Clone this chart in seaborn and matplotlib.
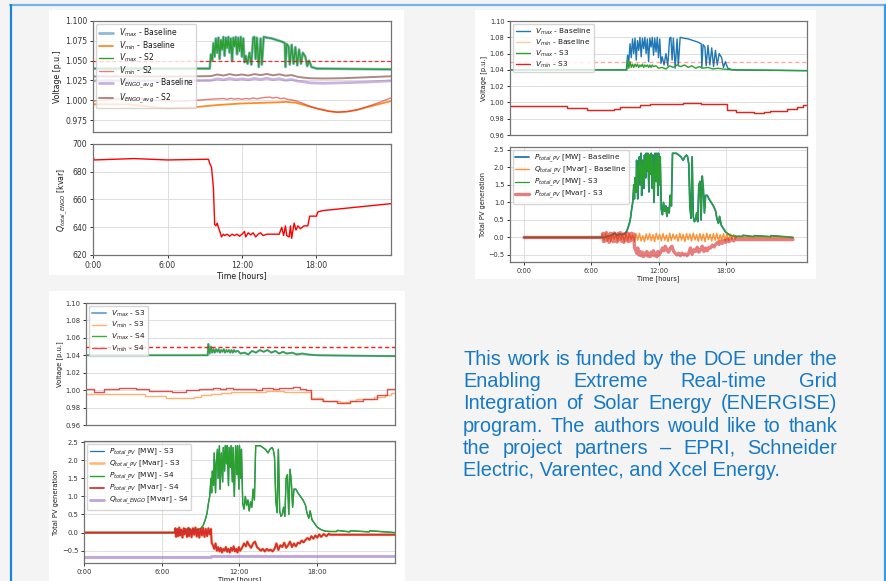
import numpy as np
import matplotlib
matplotlib.use("Agg")
import matplotlib.pyplot as plt
import seaborn as sns
from matplotlib.patches import Rectangle
from matplotlib.lines import Line2D
from matplotlib.ticker import FormatStrFormatter, MultipleLocator

W, H = 887, 581

# ------------------------------------------------------------------ data
hour_ticks = [0, 6, 12, 18]
hour_labels = ["0:00", "6:00", "12:00", "18:00"]
v_limit = 1.05

# Baseline V_max (spiky over-voltage) [p.u.]
vmax_base_t = [0.0, 9.40, 9.50, 9.60, 9.70, 9.80, 9.90, 10.0, 10.1, 10.2, 10.3, 10.4, 10.5,
               10.6, 10.7, 10.8, 10.9, 11.0, 11.1, 11.2, 11.3, 11.4, 11.5, 11.6, 11.7, 11.8,
               11.9, 12.0, 12.1, 12.2, 12.3, 12.45, 12.6, 12.75, 12.9, 13.0, 13.1, 13.2, 13.35,
               13.5, 13.6, 13.75, 14.0, 14.4, 14.8, 15.2, 15.45, 15.5, 15.6, 15.75, 15.85, 16.0,
               16.15, 16.3, 16.45, 16.6, 16.75, 16.9, 17.1, 17.25, 17.4, 17.6, 17.8, 18.0, 24.0]
vmax_base_v = [1.040, 1.040, 1.058, 1.050, 1.072, 1.055, 1.078, 1.060, 1.079, 1.052, 1.076, 1.064, 1.080,
               1.056, 1.079, 1.066, 1.080, 1.060, 1.078, 1.050, 1.079, 1.068, 1.080, 1.058, 1.079, 1.062,
               1.080, 1.055, 1.078, 1.048, 1.056, 1.046, 1.060, 1.045, 1.079, 1.080, 1.052, 1.079, 1.042,
               1.078, 1.045, 1.080, 1.079, 1.078, 1.076, 1.074, 1.072, 1.042, 1.071, 1.068, 1.045, 1.070,
               1.046, 1.067, 1.044, 1.064, 1.046, 1.060, 1.055, 1.043, 1.050, 1.042, 1.041, 1.040, 1.039]

# S3 / S4 V_max (controlled) [p.u.]
vmax_s3_t = [0.0, 9.45, 9.5, 9.6, 9.7, 9.8, 9.9, 10.0, 10.1, 10.2, 10.3, 10.4, 10.5, 10.6, 10.7,
             10.8, 10.9, 11.0, 11.1, 11.2, 11.3, 11.4, 11.5, 11.6, 11.8, 12.0, 12.3, 12.6, 12.9,
             13.2, 13.5, 13.8, 14.1, 14.4, 14.7, 15.0, 15.3, 15.6, 16.0, 16.4, 16.8, 17.2, 18.0, 24.0]
vmax_s3_v = [1.040, 1.040, 1.053, 1.042, 1.050, 1.043, 1.047, 1.043, 1.047, 1.044, 1.047, 1.043, 1.046,
             1.044, 1.047, 1.043, 1.046, 1.044, 1.046, 1.043, 1.046, 1.043, 1.046, 1.044, 1.045, 1.042,
             1.043, 1.041, 1.045, 1.043, 1.046, 1.044, 1.046, 1.043, 1.045, 1.042, 1.044, 1.042, 1.043,
             1.041, 1.042, 1.041, 1.040, 1.039]

# V_min, baseline and S3 (step profile) [p.u.]
vmin_s3_t = [0.0, 3.0, 4.6, 6.2, 8.4, 8.9, 9.7, 10.5, 11.3, 12.7, 14.0, 15.4, 17.5, 18.3, 19.7,
             20.5, 21.0, 22.4, 23.2, 23.7, 24.0]
vmin_s3_v = [0.9958, 0.9952, 0.9935, 0.991, 0.9925, 0.994, 0.995, 0.9965, 0.998, 0.998, 0.999, 0.998,
             0.991, 0.988, 0.9866, 0.988, 0.990, 0.992, 0.994, 0.997, 0.997]

# V_min S4 (step profile) [p.u.]
vmin_s4_t = [0.0, 0.65, 1.4, 2.6, 3.9, 4.9, 6.7, 7.8, 8.8, 9.9, 10.4, 10.9, 11.4, 12.0, 12.7, 13.2,
             13.7, 14.5, 15.0, 15.6, 16.1, 16.6, 17.1, 17.5, 18.4, 19.5, 20.5, 21.5, 22.6, 23.4, 24.0]
vmin_s4_v = [1.001, 0.9977, 1.001, 1.0027, 1.001, 0.9989, 0.998, 0.9996, 1.0015, 1.0027, 1.0018,
             1.0028, 1.0008, 1.0012, 1.0015, 1.0005, 1.002, 1.0012, 1.003, 1.002, 1.0038, 1.0008,
             0.9996, 0.9897, 0.987, 0.985, 0.987, 0.990, 0.9943, 1.001, 1.001]

# Panel with S2: V_min baseline / S2, ENGO average voltages [p.u.]
vmin_p1_t = [0, 1.5, 3.0, 4.5, 5.9, 7.0, 8.0, 9.0, 10.0, 11.0, 12.0, 13.0, 14.0, 15.0, 15.5, 16.3,
             17.0, 17.5, 18.2, 19.0, 19.7, 20.5, 21.3, 22.0, 23.0, 24.0]
vmin_base_p1_v = [0.995, 0.995, 0.9948, 0.992, 0.990, 0.9902, 0.991, 0.9925, 0.994, 0.995, 0.996,
                  0.9965, 0.997, 0.9975, 0.998, 0.997, 0.994, 0.992, 0.989, 0.9862, 0.985, 0.9858,
                  0.988, 0.991, 0.995, 0.999]
vmin_s2_t = [0, 1.0, 2.7, 4.0, 5.5, 7.5, 9.0, 10.0, 10.5, 10.8, 11.1, 11.4, 11.7, 12.0, 12.3, 12.6,
             12.9, 13.2, 13.5, 13.8, 14.2, 14.5, 14.8, 15.1, 15.4, 15.7, 16.0, 16.4, 17.0, 17.5,
             18.2, 19.0, 19.7, 20.5, 21.3, 22.0, 23.0, 24.0]
vmin_s2_v = [0.999, 1.0005, 1.0026, 1.002, 0.999, 0.999, 1.0008, 1.0018, 1.0022, 1.0012, 1.0025,
             1.0015, 1.0022, 1.0013, 1.0024, 1.0016, 1.003, 1.0018, 1.0028, 1.0035, 1.004, 1.0028,
             1.0038, 1.002, 1.0028, 1.001, 1.0005, 0.999, 0.9955, 0.992, 0.989, 0.9862, 0.985,
             0.9858, 0.988, 0.9915, 0.997, 1.003]
engo_t = [0, 3, 6, 9.5, 10.0, 10.5, 11.0, 11.5, 12.0, 12.5, 13.0, 13.5, 14.0, 14.5, 15.0, 15.5,
          16.0, 16.5, 17.0, 17.5, 18.5, 20, 22, 24]
engo_base_v = [1.0245, 1.0248, 1.0245, 1.025, 1.027, 1.0258, 1.0275, 1.026, 1.027, 1.0258, 1.0275,
               1.0262, 1.0278, 1.026, 1.0272, 1.0252, 1.0262, 1.0242, 1.0232, 1.022, 1.0215, 1.022,
               1.023, 1.0245]
engo_s2_v = [1.030, 1.0302, 1.0298, 1.0305, 1.0325, 1.0312, 1.033, 1.0315, 1.0325, 1.0312, 1.033,
             1.0318, 1.0332, 1.0315, 1.0328, 1.031, 1.0318, 1.0295, 1.0285, 1.0278, 1.0275, 1.0278,
             1.029, 1.0303]

# Q_total_ENGO with S2 [kvar]
qengo_t = [0, 0.1, 3.3, 6.0, 9.3, 9.4, 9.55, 9.7, 9.8, 9.9, 10.0, 10.1, 10.25, 10.35, 10.5, 10.6,
           10.8, 11.0, 11.2, 11.4, 11.6, 11.8, 12.0, 12.2, 12.3, 12.5, 12.7, 12.9, 13.1, 13.3, 13.5,
           13.7, 14.0, 14.5, 15.0, 15.2, 15.35, 15.5, 15.6, 15.8, 15.9, 16.0, 16.2, 16.35, 16.5,
           16.7, 17.0, 17.3, 17.45, 17.6, 18.0, 18.1, 18.5, 24.0]
qengo_v = [691, 688.5, 689.5, 688.5, 689, 686, 683, 668, 642, 641, 643, 640, 636, 633, 635, 634,
           635, 633.5, 635, 634, 635, 633.5, 635, 637, 633, 636, 634.5, 636, 633, 635, 636, 634, 635,
           635, 635, 640, 634, 641, 634, 633, 641, 632, 643, 638, 641, 639, 641, 641, 648, 648, 648,
           651, 652, 657]

# Total PV active power [MW]
pv_p_t = [0, 7.2, 7.4, 7.8, 8.1, 8.3, 8.5, 8.7, 9.0, 9.2, 9.4, 9.5, 9.6, 9.7, 9.8, 9.85, 9.9, 10.0,
          10.05, 10.15, 10.2, 10.3, 10.35, 10.45, 10.5, 10.6, 10.7, 10.75, 10.85, 10.9, 11.0, 11.05,
          11.15, 11.2, 11.3, 11.35, 11.45, 11.5, 11.6, 11.7, 11.8, 11.85, 11.95, 12.0, 12.1, 12.15,
          12.25, 12.35, 12.45, 12.55, 12.65, 12.75, 12.85, 12.95, 13.05, 13.15, 13.25, 13.4, 13.6,
          13.8, 14.0, 14.2, 14.35, 14.5, 14.6, 14.7, 14.8, 14.9, 15.0, 15.1, 15.2, 15.3, 15.4, 15.5,
          15.6, 15.7, 15.8, 15.9, 16.0, 16.1, 16.2, 16.35, 16.5, 16.7, 16.9, 17.1, 17.2, 17.35,
          17.45, 17.6, 17.8, 18.0, 18.3, 18.6, 19.0, 19.5, 19.55, 20.5, 20.55, 22.0, 22.05, 24.0]
pv_p_v = [0, 0, 0.03, 0.06, 0.12, 0.05, 0.10, 0.08, 0.10, 0.2, 0.4, 0.55, 0.8, 1.0, 1.5, 1.1, 1.7,
          1.3, 2.2, 1.1, 1.9, 2.3, 1.5, 2.4, 1.2, 2.2, 1.4, 2.35, 1.7, 2.4, 1.9, 2.4, 1.3, 2.35, 1.8,
          2.4, 1.4, 2.35, 1.0, 2.4, 1.6, 2.4, 1.2, 2.4, 1.5, 2.3, 0.8, 0.65, 1.0, 0.75, 0.9, 0.6, 0.85,
          0.7, 1.2, 0.9, 2.4, 2.4, 2.4, 2.35, 2.3, 2.2, 2.3, 2.35, 2.3, 2.1, 0.9, 0.55, 2.3, 0.6, 0.45,
          0.5, 0.7, 0.45, 1.5, 1.6, 0.5, 1.75, 1.4, 0.7, 1.2, 1.2, 1.1, 1.0, 0.9, 0.75, 0.55, 0.4, 0.6,
          0.35, 0.25, 0.15, 0.08, 0.04, 0.03, 0.03, 0.06, 0.02, 0.05, 0.02, 0.05, 0.0]

# PV reactive power with S3 control [Mvar]
q_s3_t = [0, 7.0, 7.05, 7.1, 7.2, 7.25, 7.35, 7.4, 7.5, 7.6, 7.7, 7.75, 7.85, 7.95, 8.05, 8.1, 8.2,
          8.3, 8.4, 8.5, 8.6, 8.7, 8.8, 8.9, 9.0, 9.1, 9.2, 9.3, 9.4, 9.5, 9.6, 9.7, 9.8, 9.85, 9.95,
          10.05, 10.15, 10.25, 10.35, 10.45, 10.55, 10.65, 10.75, 10.85, 10.95, 11.05, 11.15, 11.25,
          11.35, 11.45, 11.55, 11.65, 11.75, 11.85, 11.95, 12.05, 12.2, 12.35, 12.5, 12.6, 12.75,
          12.9, 13.05, 13.2, 13.35, 13.5, 13.65, 13.8, 13.95, 14.1, 14.25, 14.4, 14.55, 14.7, 14.85,
          15.0, 15.15, 15.3, 15.45, 15.6, 15.75, 15.9, 16.05, 16.2, 16.35, 16.5, 16.65, 16.8, 16.95,
          17.1, 17.25, 17.4, 17.55, 17.7, 17.85, 18.0, 18.15, 18.3, 18.5, 18.7, 18.9, 19.0, 24.0]
q_s3_v = [0, 0, 0.12, -0.12, 0.1, -0.1, 0.14, -0.08, 0.08, -0.14, 0.12, -0.05, 0.1, -0.12, 0.13,
          -0.1, 0.09, -0.13, 0.12, -0.06, 0.14, -0.11, 0.1, -0.14, 0.11, -0.08, 0.13, -0.12, 0.1,
          -0.1, 0.12, -0.05, 0.1, -0.28, -0.35, -0.45, -0.3, -0.5, -0.4, -0.52, -0.42, -0.55, -0.45,
          -0.5, -0.4, -0.53, -0.45, -0.55, -0.42, -0.5, -0.38, -0.52, -0.45, -0.55, -0.4, -0.5, -0.42,
          -0.3, -0.38, -0.25, -0.35, -0.42, -0.3, -0.25, -0.4, -0.45, -0.5, -0.45, -0.52, -0.45, -0.5,
          -0.47, -0.52, -0.45, -0.3, -0.48, -0.35, -0.4, -0.28, -0.42, -0.35, -0.25, -0.4, -0.3,
          -0.38, -0.28, -0.3, -0.22, -0.27, -0.2, -0.15, -0.2, -0.1, -0.17, -0.08, -0.14, -0.05,
          -0.12, -0.04, -0.1, -0.03, -0.06, -0.06]

# PV reactive power, baseline [Mvar] (dense band 7:00-19:00, 0.15 h steps)
q_base_start, q_base_step = 7.0, 0.15
q_base_band = [0.10, -0.08, 0.12, -0.10, 0.06, -0.12, 0.11, -0.05, 0.09, -0.11, 0.12, -0.07, 0.08,
               -0.12, 0.10, -0.09, 0.12, -0.06, 0.07, -0.11, 0.11, -0.08, 0.12, -0.10, 0.05, -0.12,
               0.10, -0.07, 0.11, -0.09, 0.08, -0.12, 0.12, -0.06, 0.09, -0.10, 0.11, -0.08, 0.07,
               -0.12, 0.12, -0.09, 0.10, -0.05, 0.08, -0.11, 0.12, -0.08, 0.09, -0.12, 0.11, -0.06,
               0.10, -0.10, 0.12, -0.07, 0.08, -0.11, 0.11, -0.09, 0.10, -0.12, 0.12, -0.06, 0.09,
               -0.10, 0.11, -0.08, 0.12, -0.11, 0.08, -0.07, 0.11, -0.10, 0.12, -0.09, 0.10, -0.06,
               0.08, -0.05, 0.03]

# Q_total_ENGO with S4 [Mvar]
qengo_s4_t = [0, 9.8, 17.7, 24.0]
qengo_s4_v = [-0.68, -0.635, -0.655, -0.655]

# ------------------------------------------------------------------ style
sns.set_theme(style="whitegrid", rc={
    "axes.edgecolor": "0.45", "axes.linewidth": 0.9, "grid.color": "0.87",
    "grid.linewidth": 0.7, "xtick.bottom": True, "ytick.left": True,
    "xtick.major.size": 2.5, "ytick.major.size": 2.5, "xtick.major.width": 0.7,
    "ytick.major.width": 0.7, "xtick.major.pad": 1.5, "ytick.major.pad": 1.5,
    "xtick.color": "0.2", "ytick.color": "0.2", "text.color": "0.1",
    "axes.labelcolor": "0.1", "legend.frameon": True,
})
plt.rcParams["font.family"] = ["DejaVu Sans"]

C = dict(blue="#1f77b4", orange="#ff7f0e", green="#2ca02c", red="#d62728",
         purple="#9467bd", brown="#8c564b")

fig = plt.figure(figsize=(W / 100, H / 100), dpi=100, facecolor="#f4f4f4")


def fx(x):
    return x / W


def fy(y):
    return 1 - y / H


def panel(x0, y0, x1, y1):
    fig.patches.append(Rectangle((fx(x0), fy(y1)), fx(x1 - x0), (y1 - y0) / H,
                                 transform=fig.transFigure, facecolor="white",
                                 edgecolor="none", zorder=-5))


def px_axes(x0, y0, x1, y1):
    ax = fig.add_axes([fx(x0), fy(y1), fx(x1 - x0), (y1 - y0) / H])
    ax.set_zorder(2)
    return ax


def line(ax, t, v, color, lw=1.0, alpha=1.0, label=None, steps=False, z=2):
    kw = {"drawstyle": "steps-post"} if steps else {}
    sns.lineplot(x=list(t), y=list(v), ax=ax, color=color, linewidth=lw, alpha=alpha,
                 estimator=None, sort=False, zorder=z, legend=False, **kw)
    if label is not None:
        ax.lines[-1].set_label(label)


def style(ax, fs):
    ax.tick_params(labelsize=fs, length=2.5, pad=1.5)
    for s in ax.spines.values():
        s.set_color("0.45")
        s.set_linewidth(0.9)


def time_axis(ax, fs):
    ax.set_xticks(hour_ticks)
    ax.set_xticklabels(hour_labels)
    ax.set_xlabel("Time [hours]", fontsize=fs, labelpad=1)


def legend(ax, fs, spacing=0.25):
    ax.legend(loc="upper left", fontsize=fs, labelspacing=spacing, handlelength=1.9,
              borderpad=0.35, handletextpad=0.7, borderaxespad=0.4, framealpha=0.8,
              edgecolor="0.8", fancybox=True)


# white backgrounds of the three figure insets
panel(49, 10, 404, 275)
panel(475, 10, 816, 279)
panel(49, 291, 405, 581)

# poster borders
fig.lines.append(Line2D([fx(10), fx(886)], [fy(5), fy(5)], transform=fig.transFigure,
                        color="#74b4e4", lw=1.6, zorder=5))
fig.lines.append(Line2D([fx(11), fx(11)], [fy(5), fy(582)], transform=fig.transFigure,
                        color="#1a84d6", lw=1.6, zorder=5))
fig.lines.append(Line2D([fx(885), fx(885)], [fy(5), fy(582)], transform=fig.transFigure,
                        color="#3a9be3", lw=1.6, zorder=5))

# ---------------- panel 1 (S2) ----------------
fs1 = 5.6
a = px_axes(93, 21, 391, 132)
line(a, vmax_base_t, vmax_base_v, C["blue"], 2.0, 0.5, r"$V_{max}$ - Baseline")
line(a, vmin_p1_t, vmin_base_p1_v, C["orange"], 1.3, 0.9, r"$V_{min}$ - Baseline")
line(a, vmax_base_t, vmax_base_v, C["green"], 1.0, 1.0, r"$V_{max}$ - S2")
line(a, vmin_s2_t, vmin_s2_v, C["red"], 1.0, 0.6, r"$V_{min}$ - S2")
line(a, engo_t, engo_base_v, C["purple"], 2.0, 0.5, r"$V_{ENGO\_avg}$ - Baseline")
line(a, engo_t, engo_s2_v, C["brown"], 1.4, 0.7, r"$V_{ENGO\_avg}$ - S2")
a.axhline(v_limit, color="red", ls=(0, (3, 2)), lw=0.9, alpha=0.8, zorder=3)
a.set_xlim(0, 24)
a.set_ylim(0.96, 1.10)
a.yaxis.set_major_locator(MultipleLocator(0.025))
a.yaxis.set_major_formatter(FormatStrFormatter("%.3f"))
a.set_xticks([])
a.set_ylabel("Voltage [p.u.]", fontsize=fs1, labelpad=2)
style(a, fs1)
legend(a, 5.5, 0.0)

a = px_axes(93, 144, 391, 255)
line(a, qengo_t, qengo_v, "red", 1.0, 1.0)
a.set_xlim(0, 24)
a.set_ylim(620, 700)
a.yaxis.set_major_locator(MultipleLocator(20))
a.set_ylabel(r"$Q_{total\_ENGO}$ [kvar]", fontsize=fs1, labelpad=2)
time_axis(a, fs1)
style(a, fs1)

# ---------------- panel 2 (S3) ----------------
fs2 = 4.8
a = px_axes(510, 21, 807, 135)
line(a, vmax_base_t, vmax_base_v, C["blue"], 1.0, 1.0, r"$V_{max}$ - Baseline")
line(a, vmin_s3_t, vmin_s3_v, C["orange"], 1.0, 0.4, r"$V_{min}$ - Baseline", steps=True)
line(a, vmax_s3_t, vmax_s3_v, C["green"], 1.0, 1.0, r"$V_{max}$ - S3")
line(a, vmin_s3_t, vmin_s3_v, C["red"], 1.0, 1.0, r"$V_{min}$ - S3", steps=True)
a.axhline(v_limit, color="red", ls=(0, (3, 2)), lw=1.0, alpha=0.35, zorder=3)
a.set_xlim(0, 24)
a.set_ylim(0.96, 1.10)
a.yaxis.set_major_locator(MultipleLocator(0.02))
a.yaxis.set_major_formatter(FormatStrFormatter("%.2f"))
a.set_xticks([])
a.set_ylabel("Voltage [p.u.]", fontsize=fs2, labelpad=2)
style(a, fs2)
legend(a, 5.3, 0.1)

q_base_t = [0.0] + [q_base_start + q_base_step * i for i in range(len(q_base_band))] + [19.2, 24.0]
q_base_v = [0.0] + q_base_band + [0.0, 0.0]
q_base_t[1:1] = [6.95]
q_base_v[1:1] = [0.0]

a = px_axes(510, 147, 807, 262)
line(a, pv_p_t, pv_p_v, C["blue"], 1.3, 1.0, r"$P_{total\_PV}$ [MW] - Baseline")
line(a, q_base_t, q_base_v, C["orange"], 1.0, 0.85, r"$Q_{total\_PV}$ [Mvar] - Baseline")
line(a, pv_p_t, pv_p_v, C["green"], 0.9, 1.0, r"$P_{total\_PV}$ [MW] - S3")
line(a, q_s3_t, q_s3_v, C["red"], 2.4, 0.6, r"$P_{total\_PV}$ [Mvar] - S3")
a.set_xlim(-1.25, 25.25)
a.set_ylim(-0.7, 2.58)
a.yaxis.set_major_locator(MultipleLocator(0.5))
a.set_ylabel("Total PV generation", fontsize=fs2, labelpad=2)
time_axis(a, fs2)
style(a, fs2)
legend(a, 5.2, 0.0)

# ---------------- panel 3 (S4) ----------------
fs3 = 4.9
a = px_axes(86, 303, 395, 425)
line(a, vmax_s3_t, vmax_s3_v, C["blue"], 1.5, 0.6, r"$V_{max}$ - S3")
line(a, vmin_s3_t, vmin_s3_v, C["orange"], 1.0, 0.6, r"$V_{min}$ - S3", steps=True)
line(a, vmax_s3_t, vmax_s3_v, C["green"], 1.0, 0.9, r"$V_{max}$ - S4")
line(a, vmin_s4_t, vmin_s4_v, C["red"], 1.0, 0.8, r"$V_{min}$ - S4", steps=True)
a.axhline(v_limit, color="red", ls=(0, (3, 2)), lw=1.0, alpha=0.9, zorder=3)
a.set_xlim(0, 24)
a.set_ylim(0.96, 1.10)
a.yaxis.set_major_locator(MultipleLocator(0.02))
a.yaxis.set_major_formatter(FormatStrFormatter("%.2f"))
a.set_xticks([])
a.set_ylabel("Voltage [p.u.]", fontsize=fs3, labelpad=2)
style(a, fs3)
legend(a, 5.3, 0.2)

a = px_axes(84, 441, 395, 563)
line(a, pv_p_t, pv_p_v, C["blue"], 0.9, 1.0, r"$P_{total\_PV}$ [MW] - S3")
line(a, q_s3_t, q_s3_v, C["orange"], 1.9, 0.55, r"$Q_{total\_PV}$ [Mvar] - S3")
line(a, pv_p_t, pv_p_v, C["green"], 1.0, 1.0, r"$P_{total\_PV}$ [MW] - S4")
line(a, q_s3_t, q_s3_v, C["red"], 1.3, 0.95, r"$P_{total\_PV}$ [Mvar] - S4")
line(a, qengo_s4_t, qengo_s4_v, C["purple"], 2.0, 0.6, r"$Q_{total\_ENGO}$ [Mvar] - S4", steps=True)
a.set_xlim(0, 24)
a.set_ylim(-0.84, 2.53)
a.yaxis.set_major_locator(MultipleLocator(0.5))
a.set_ylabel("Total PV generation", fontsize=fs3, labelpad=2)
time_axis(a, fs3)
style(a, fs3)
legend(a, 5.3, 0.0)

# ---------------- acknowledgement text (justified) ----------------
ack_lines = [
    "This work is funded by the DOE under the",
    "Enabling Extreme Real-time Grid",
    "Integration of Solar Energy (ENERGISE)",
    "program. The authors would like to thank",
    "the project partners \u2013 EPRI, Schneider",
    "Electric, Varentec, and Xcel Energy.",
]
x_left, x_right = 463, 837
base0, lead = 365, 22.2
tcolor = "#1779c4"
tfam = ["Liberation Sans", "DejaVu Sans"]
renderer = fig.canvas.get_renderer()

probe = fig.text(0, 0, ack_lines[0], fontsize=14, family=tfam)
w0 = probe.get_window_extent(renderer).width
probe.remove()
tsize = 14 * (x_right - x_left) / w0

for i, ln in enumerate(ack_lines):
    yb = base0 + i * lead
    if i == len(ack_lines) - 1:
        fig.text(fx(x_left), fy(yb), ln, fontsize=tsize, family=tfam, color=tcolor,
                 va="baseline", ha="left")
        continue
    words = ln.split(" ")
    objs = [fig.text(0, fy(yb), w, fontsize=tsize, family=tfam, color=tcolor,
                     va="baseline", ha="left") for w in words]
    widths = [o.get_window_extent(renderer).width for o in objs]
    gap = (x_right - x_left - sum(widths)) / (len(words) - 1)
    xc = x_left
    for o, wd in zip(objs, widths):
        o.set_x(fx(xc))
        xc += wd + gap

fig.savefig("out.png", dpi=100, facecolor=fig.get_facecolor())
